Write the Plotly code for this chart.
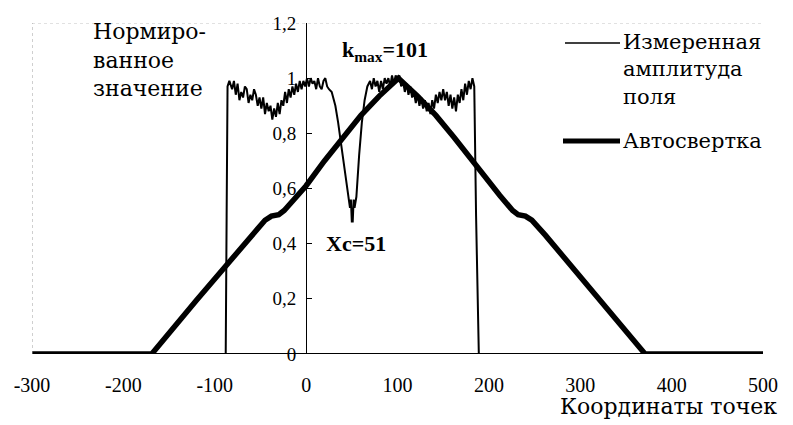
import plotly.graph_objects as go

# Measured field amplitude (thin line)
meas_x = [-300, -88, -87, -86, -84, -81, -79, -77, -75, -73, -71, -69, -67, -65, -63, -61, -59, -57,
          -55, -53, -51, -49, -47, -45, -43, -41, -39, -37, -35, -33, -31, -29, -27, -25, -23, -21,
          -19, -17, -15, -13, -11, -9, -7, -5, -3, -1, 1, 3, 5, 7, 9, 11, 13, 15, 17, 19, 21, 23,
          25, 28, 32, 35, 40, 46, 48, 49, 50, 51, 52, 53, 55, 58, 61, 64, 67, 70,
          72, 74, 76, 78, 80, 82, 84, 86, 88, 90, 92, 94, 96, 98, 100, 102, 104, 106, 108, 110,
          112, 114, 116, 118, 120, 122, 124, 126, 128, 130, 132, 134, 136, 138, 140, 142, 144,
          146, 148, 150, 152, 154, 156, 158, 160, 162, 164, 166, 168, 170, 172, 174, 176, 178,
          180, 182, 184, 186, 189, 500]
meas_y = [0, 0, 0.5, 0.97, 0.99, 0.96, 0.99, 0.94, 0.98, 0.92, 0.95, 0.93, 0.97, 0.96, 0.91, 0.94, 0.92, 0.96,
          0.94, 0.90, 0.93, 0.89, 0.93, 0.87, 0.91, 0.88, 0.90, 0.85, 0.89, 0.86, 0.91, 0.87, 0.92, 0.90, 0.95, 0.91,
          0.96, 0.93, 0.97, 0.94, 0.98, 0.95, 0.99, 0.96, 0.99, 0.97, 1.00, 0.97, 1.00, 0.98, 0.99, 0.96, 1.00, 0.97, 0.96, 0.99, 1.00, 0.97,
          0.96, 0.95, 0.90, 0.84, 0.72, 0.57, 0.53, 0.56, 0.48, 0.48, 0.56, 0.53, 0.57, 0.72, 0.84, 0.92, 0.97, 0.99,
          0.96, 1.00, 0.97, 0.99, 0.95, 0.99, 0.96, 1.00, 0.98, 1.00, 0.97, 1.01, 0.98, 1.01, 0.99, 1.01, 0.97, 0.99, 0.95, 0.98,
          0.94, 0.97, 0.93, 0.95, 0.91, 0.94, 0.90, 0.93, 0.89, 0.92, 0.88, 0.91, 0.87, 0.92, 0.89, 0.94, 0.91,
          0.95, 0.92, 0.96, 0.92, 0.95, 0.90, 0.94, 0.89, 0.93, 0.88, 0.94, 0.91, 0.96, 0.92, 0.98, 0.94, 0.99,
          0.96, 1.00, 0.97, 0.50, 0.0, 0]

# Autoconvolution (thick line)
auto_x = [-300, -169, -120, -88, -60, -45, -38, -30, -24, -10, 0, 20, 40, 60, 80, 101,
          122, 142, 162, 182, 202, 212, 226, 232, 240, 247, 262, 290, 322, 371, 500]
auto_y = [0, 0, 0.195, 0.32, 0.43, 0.485, 0.50, 0.505, 0.52, 0.575, 0.61, 0.70, 0.785, 0.865, 0.935, 1.0,
          0.935, 0.865, 0.785, 0.70, 0.61, 0.575, 0.52, 0.505, 0.50, 0.485, 0.43, 0.32, 0.195, 0, 0]

x_ticks = [-300, -200, -100, 0, 100, 200, 300, 400, 500]
x_ticktext = ["-300", "-200", "-100", "0", "100", "200", "300", "400", "500"]
y_ticks = [0, 0.2, 0.4, 0.6, 0.8, 1.0, 1.2]
y_ticktext = ["0", "0,2", "0,4", "0,6", "0,8", "1", "1,2"]

FONT = "Liberation Serif, Times New Roman, serif"
TFONT = "DejaVu Serif, serif"

fig = go.Figure()
fig.add_trace(go.Scatter(x=auto_x, y=auto_y, mode="lines", name="Автосвертка",
                         line=dict(color="black", width=5.5), showlegend=False))
fig.add_trace(go.Scatter(x=meas_x, y=meas_y, mode="lines", name="Измеренная амплитуда поля",
                         line=dict(color="black", width=2), showlegend=False))

OFF = 8  # page body margin
W, H = 793 - OFF, 425 - OFF
L, R, T, B = 32 - OFF, 30, 23 - OFF, 71
pw, ph = W - L - R, H - T - B


def px(xp):
    # page pixel x -> paper fraction
    return (xp - OFF - L) / pw


def py(yp):
    # page pixel y -> paper fraction
    return (H - B - (yp - OFF)) / ph


fig.update_layout(
    width=W, height=H,
    margin=dict(l=L, r=R, t=T, b=B, autoexpand=False),
    paper_bgcolor="white", plot_bgcolor="white",
    separators=", ",
    font=dict(family=FONT, size=18, color="black"),
    xaxis=dict(range=[-300, 500], tickvals=x_ticks, ticktext=x_ticktext, showgrid=False, zeroline=False,
               showline=False, ticks="", ticklabelstandoff=17,
               tickfont=dict(family=FONT, size=20)),
    yaxis=dict(range=[0, 1.2], tickvals=y_ticks, ticktext=y_ticktext, showgrid=False, zeroline=False,
               showline=True, linecolor="black", linewidth=1,
               anchor="free", position=300 / 800, ticks="inside", ticklen=5,
               tickcolor="black", tickwidth=1, ticklabelstandoff=6,
               tickfont=dict(family=FONT, size=19)),
)

shapes = [
    dict(type="line", xref="x", yref="y", x0=-300, x1=500, y0=0, y1=0,
         line=dict(color="black", width=1.8)),
    dict(type="line", xref="x", yref="y", x0=-300, x1=500, y0=1.2, y1=1.2,
         line=dict(color="#c4c4c4", width=1, dash="dot")),
    dict(type="line", xref="x", yref="y", x0=-300, x1=-300, y0=0, y1=1.2,
         line=dict(color="#a0a0a0", width=1, dash="dot")),
    dict(type="line", xref="paper", yref="paper", x0=px(565), x1=px(620), y0=py(43), y1=py(43),
         line=dict(color="black", width=1.5)),
    dict(type="line", xref="paper", yref="paper", x0=px(563), x1=px(620), y0=py(141), y1=py(141),
         line=dict(color="black", width=5)),
]
fig.update_layout(shapes=shapes)

ann = [
    dict(text="Нормиро-<br>ванное<br>значение", x=px(91), y=py(17), xanchor="left", yanchor="top",
         align="left", font=dict(size=22)),
    dict(text="Измеренная<br>амплитуда<br>поля", x=px(621), y=py(28), xanchor="left", yanchor="top",
         align="left", font=dict(size=21)),
    dict(text="Автосвертка", x=px(621), y=py(141), xanchor="left", yanchor="middle",
         align="left", font=dict(size=21)),
    dict(text="Координаты точек", x=px(779), y=py(406), xanchor="right", yanchor="middle",
         align="right", font=dict(size=22)),
]
for a in ann:
    a.update(xref="paper", yref="paper", showarrow=False)
    a["font"]["family"] = TFONT
    a["font"]["color"] = "black"

ann += [
    dict(text="<b>k<sub>max</sub>=101</b>", x=86, y=1.1, xref="x", yref="y", showarrow=False,
         font=dict(family=FONT, size=22, color="black")),
    dict(text="<b>Xc=51</b>", x=55, y=0.40, xref="x", yref="y", showarrow=False,
         font=dict(family=FONT, size=22, color="black")),
]
fig.update_layout(annotations=ann)

fig.write_html("out.html")
